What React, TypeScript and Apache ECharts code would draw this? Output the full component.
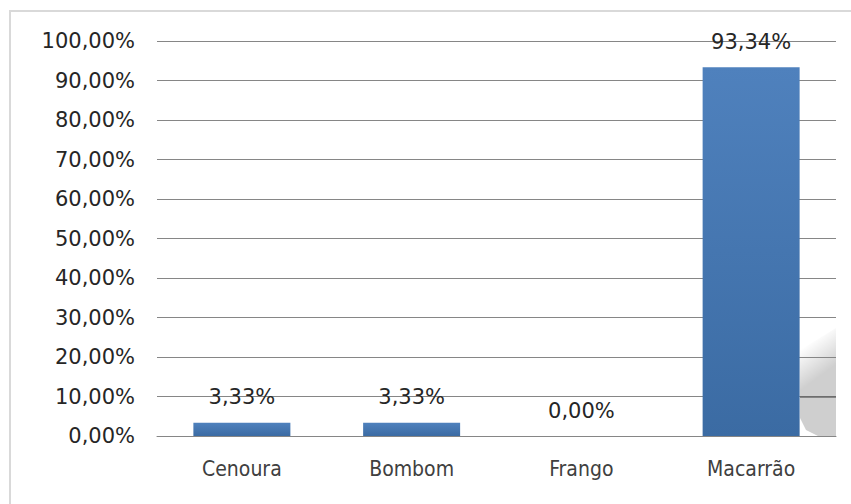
import React, { useEffect, useRef } from "react";
import * as echarts from "echarts";

const categories = ["Cenoura", "Bombom", "Frango", "Macarrão"];
const values = [3.33, 3.33, 0.0, 93.34];
const yTicks = [0, 10, 20, 30, 40, 50, 60, 70, 80, 90, 100];

const fmt = (v: number) => v.toFixed(2).replace(".", ",") + "%";
const NARROW = "'DejaVu Sans Condensed', 'Liberation Sans Narrow', sans-serif";
const WIDE = "'DejaVu Sans', 'Open Sans', sans-serif";

export default function App() {
  const ref = useRef<HTMLDivElement>(null);
  useEffect(() => {
    document.body.style.margin = "0";
    const chart = echarts.init(ref.current!, null, { renderer: "svg" });
    chart.setOption({
      animation: false,
      backgroundColor: "#ffffff",
      grid: { left: 157, right: 15, top: 41, bottom: 68 },
      xAxis: {
        type: "category",
        data: categories,
        axisLine: { lineStyle: { color: "#868686", width: 1 } },
        axisTick: { show: false },
        axisLabel: { color: "#404040", fontSize: 21, fontFamily: NARROW, margin: 22 },
      },
      yAxis: {
        type: "value",
        min: 0,
        max: 100,
        interval: 10,
        axisLine: { show: false },
        axisTick: { show: false },
        splitLine: { lineStyle: { color: "#868686", width: 1 } },
        axisLabel: {
          color: "#262626",
          fontSize: 21,
          fontFamily: WIDE,
          margin: 22,
          formatter: (v: number) => (yTicks.includes(v) ? fmt(v) : ""),
        },
      },
      series: [
        {
          type: "bar",
          data: values,
          barWidth: 97,
          itemStyle: {
            color: new echarts.graphic.LinearGradient(0, 0, 0, 1, [
              { offset: 0, color: "#4F81BD" },
              { offset: 1, color: "#3B6BA3" },
            ]),
          },
          label: {
            show: true,
            position: "top",
            distance: 15,
            color: "#262626",
            fontSize: 21,
            fontFamily: WIDE,
            formatter: (p: any) => fmt(p.value),
          },
        },
      ],
    });
    const y0 = chart.convertToPixel({ yAxisIndex: 0 }, 0) as number;
    const gridLines = [10, 20].map((v) => {
      const y = Math.round(chart.convertToPixel({ yAxisIndex: 0 }, v) as number) + 0.5;
      return {
        type: "line",
        silent: true,
        shape: { x1: 800, y1: y, x2: 836, y2: y },
        style: { stroke: "#868686", lineWidth: 1 },
      };
    });
    chart.setOption({
      graphic: [
        {
          type: "rect",
          shape: { x: 10, y: 11, width: 850, height: 500 },
          style: { fill: "none", stroke: "#d9d9d9", lineWidth: 2 },
        },
        {
          type: "polygon",
          silent: true,
          shape: {
            points: [[836, y0 - 108], [836, y0], [818, y0], [806, y0 - 6], [800, y0 - 18], [800, y0 - 86]],
          },
          style: {
            fill: new echarts.graphic.LinearGradient(
              806, y0 - 91, 826, y0 - 64,
              [
                { offset: 0, color: "rgba(0,0,0,0)" },
                { offset: 1, color: "rgba(0,0,0,0.19)" },
              ],
              true
            ),
          },
        },
        ...gridLines,
      ],
    });
    return () => chart.dispose();
  }, []);
  return <div ref={ref} style={{ width: 851, height: 504 }} />;
}
